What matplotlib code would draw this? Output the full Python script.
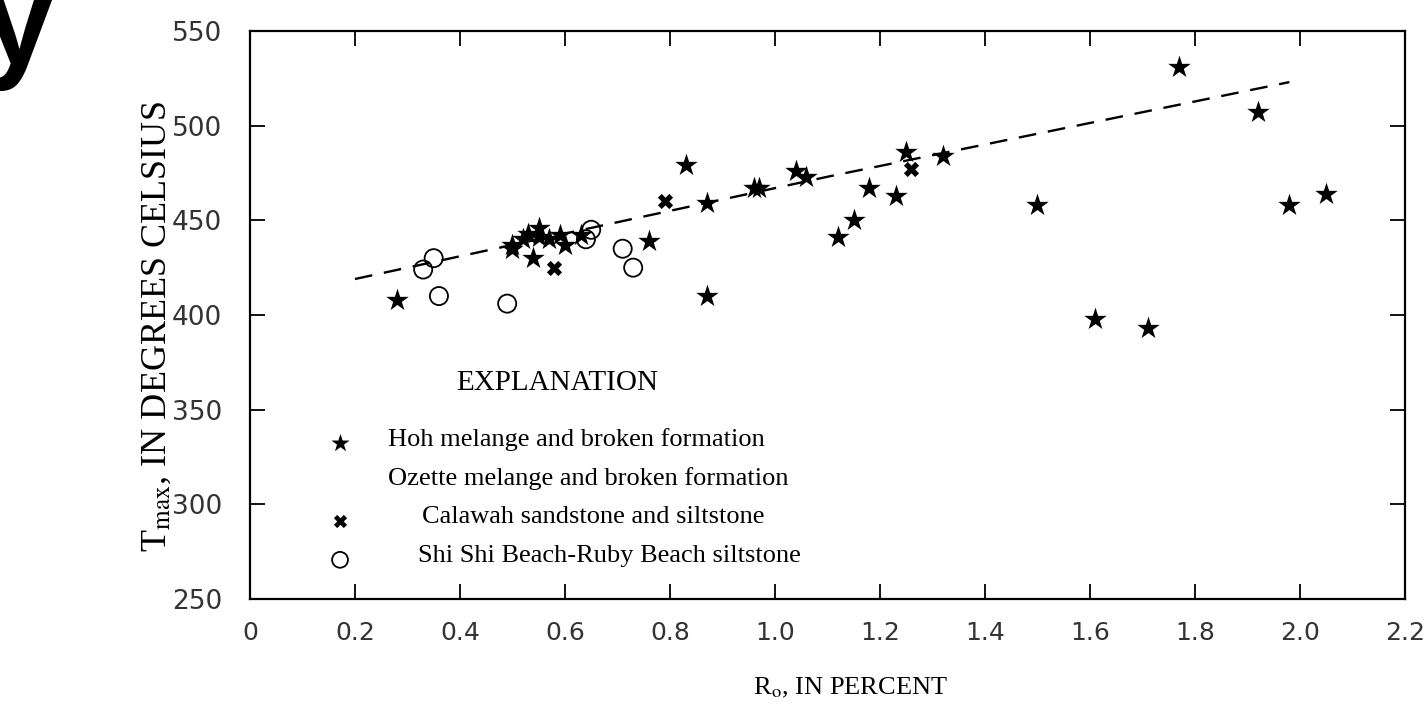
"""
Tmax vs vitrinite reflectance (Ro) scatter, Olympic Peninsula units.
"""

import matplotlib

matplotlib.use("Agg")
import matplotlib.pyplot as plt

# Hoh melange and broken formation (stars)
hoh_ro = [0.28, 0.50, 0.50, 0.52, 0.53, 0.55, 0.55, 0.57, 0.59, 0.60, 0.54, 0.63,
          0.76, 0.83, 0.87, 0.87, 0.96, 0.97, 1.04, 1.06, 1.12, 1.15, 1.18, 1.23,
          1.25, 1.32, 1.50, 1.61, 1.71, 1.77, 1.92, 1.98, 2.05]
hoh_tmax = [408, 437, 435, 440, 443, 446, 441, 440, 442, 437, 430, 442,
            439, 479, 459, 410, 467, 467, 476, 473, 441, 450, 467, 463,
            486, 484, 458, 398, 393, 531, 507, 458, 464]

# Calawah sandstone and siltstone (bold x)
cal_ro = [0.58, 0.79, 1.26]
cal_tmax = [425, 460, 477]

# Shi Shi Beach-Ruby Beach siltstone (open circles)
shi_ro = [0.33, 0.35, 0.36, 0.49, 0.64, 0.65, 0.71, 0.73]
shi_tmax = [424, 430, 410, 406, 440, 445, 435, 425]

# dashed trend line
trend_ro = [0.20, 1.10, 1.98]
trend_tmax = [419, 473, 523]

x_ticks = [0, 0.2, 0.4, 0.6, 0.8, 1.0, 1.2, 1.4, 1.6, 1.8, 2.0, 2.2]
x_ticklabels = ["0", "0.2", "0.4", "0.6", "0.8", "1.0", "1.2", "1.4", "1.6", "1.8", "2.0", "2.2"]
y_ticks = [250, 300, 350, 400, 450, 500, 550]

legend_title = "EXPLANATION"
legend_labels = [
    "Hoh melange and broken formation",
    "Ozette melange and broken formation",
    "Calawah sandstone and siltstone",
    "Shi Shi Beach-Ruby Beach siltstone",
]

SERIF = ["Liberation Serif", "DejaVu Serif"]
plt.rcParams["mathtext.fontset"] = "stix"

fig = plt.figure(figsize=(14.25, 7.12), dpi=100)
ax = fig.add_axes([0.1754, 0.1587, 0.8105, 0.7978])

ax.plot(trend_ro, trend_tmax, color="black", lw=1.7, dashes=(7.5, 5), zorder=1)
ax.scatter(hoh_ro, hoh_tmax, marker="*", s=290, color="black", linewidths=0, zorder=3)
ax.scatter(cal_ro, cal_tmax, marker="X", s=120, color="black", linewidths=0, zorder=3)
ax.scatter(shi_ro, shi_tmax, marker="o", s=170, facecolors="none", edgecolors="black",
           linewidths=1.3, zorder=2)

ax.set_xlim(0, 2.2)
ax.set_ylim(250, 550)
ax.set_xticks(x_ticks)
ax.set_xticklabels(x_ticklabels)
ax.set_yticks(y_ticks)
for sp in ax.spines.values():
    sp.set_linewidth(1.6)
ax.tick_params(direction="in", length=11, width=1.3, top=True, right=True,
               labelcolor="#333333")
ax.tick_params(axis="x", pad=16, labelsize=18)
ax.tick_params(axis="y", pad=20, labelsize=19)
for lab in ax.get_xticklabels() + ax.get_yticklabels():
    lab.set_family(["DejaVu Sans"])

ax.set_xlabel(r"R$_\mathrm{o}$, IN PERCENT", family=SERIF, fontsize=19)
ax.set_ylabel(r"T$_\mathrm{max}$, IN DEGREES CELSIUS", family=SERIF, fontsize=26)
ax.xaxis.set_label_coords(0.52, -0.135)
ax.yaxis.set_label_coords(-0.066, 0.479)

# explanation block
ax.text(0.266, 0.380, legend_title, transform=ax.transAxes, family=SERIF, fontsize=21,
        ha="center", va="center")
text_pos = [(0.1195, 0.280), (0.1195, 0.213), (0.149, 0.144), (0.1455, 0.0757)]
for (tx, ty), lab in zip(text_pos, legend_labels):
    ax.text(tx, ty, lab, transform=ax.transAxes, family=SERIF, fontsize=19,
            ha="left", va="center")
ax.scatter([0.078], [0.2746], marker="*", s=190, color="black", linewidths=0,
           transform=ax.transAxes)
ax.scatter([0.078], [0.137], marker="X", s=90, color="black", linewidths=0,
           transform=ax.transAxes)
ax.scatter([0.078], [0.069], marker="o", s=130, facecolors="none", edgecolors="black",
           linewidths=1.3, transform=ax.transAxes)

# stray letter cut off at the top-left of the slide
fig.text(-0.012, 0.91, "y", family=["Liberation Sans"], fontsize=92, fontweight="bold",
         ha="left", va="baseline")

fig.savefig("out.png", dpi=100)
